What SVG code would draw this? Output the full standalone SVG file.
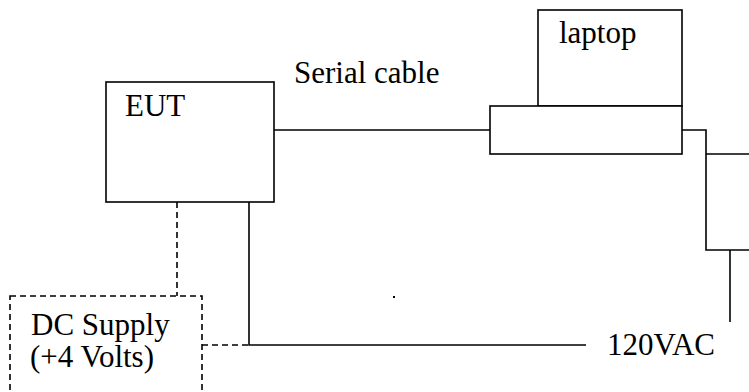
<svg xmlns="http://www.w3.org/2000/svg" width="749" height="392" viewBox="0 0 749 392">
<style>
.box{fill:#fff;stroke:#000;stroke-width:1.6}
.dbox{fill:none;stroke:#000;stroke-width:1.6;stroke-dasharray:6 4}
.ln{fill:none;stroke:#000;stroke-width:1.6}
.dl{fill:none;stroke:#000;stroke-width:1.6;stroke-dasharray:6 4}
.t{font-family:'Liberation Serif', 'DejaVu Serif', serif;font-size:31px;fill:#000}
</style>
<rect width="749" height="392" fill="#fff"/>
<g id="connectors">
<path class="ln" d="M274,130 H490"/>
<path class="ln" d="M682,130 H706 V250 H749"/>
<path class="ln" d="M706,154 H749"/>
<path class="ln" d="M730,250 V322"/>
<path class="ln" d="M249,202 V345 H586"/>
<path class="dl" d="M177,202 V296"/>
<path class="dl" d="M202,345 H249"/>
<rect x="393" y="296" width="2" height="2" fill="#000"/>
</g>
<g id="eut">
<rect class="box" x="106" y="82" width="168" height="120"/>
<text class="t" font-family="Liberation Serif, serif" x="125" y="116">EUT</text>
</g>
<g id="serial-label">
<text class="t" font-family="Liberation Serif, serif" x="294" y="83">Serial cable</text>
</g>
<g id="laptop">
<rect class="box" x="538" y="10" width="144" height="96"/>
<rect class="box" x="490" y="106" width="192" height="48"/>
<text class="t" font-family="Liberation Serif, serif" x="559" y="43">laptop</text>
</g>
<g id="dc-supply">
<rect class="dbox" x="10" y="296" width="192" height="110"/>
<text class="t" font-family="Liberation Serif, serif" x="31" y="335">DC Supply</text>
<text class="t" font-family="Liberation Serif, serif" x="30" y="367">(+4 Volts)</text>
</g>
<g id="ac">
<text class="t" font-family="Liberation Serif, serif" x="607" y="355">120VAC</text>
</g>
</svg>
